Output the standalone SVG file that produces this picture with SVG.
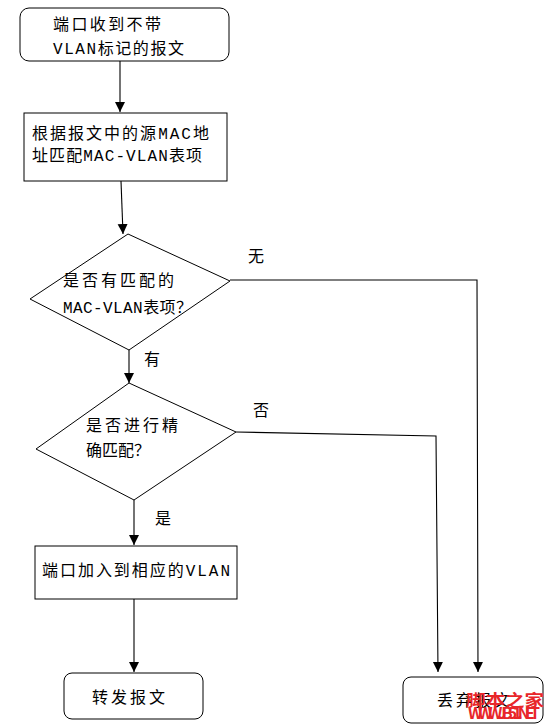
<svg xmlns="http://www.w3.org/2000/svg" width="555" height="728" viewBox="0 0 555 728">
<style>
.box{fill:#fff;stroke:#000;stroke-width:1}
.ln{fill:none;stroke:#000;stroke-width:1.1}
text{font-family:"Liberation Mono","Noto Sans CJK SC",monospace;font-size:16px;fill:#000}
.wm{font-family:"Noto Sans CJK SC",sans-serif;fill:#e8262a;font-weight:bold}
</style>
<defs>
<marker id="ah" viewBox="0 0 10 12" refX="10" refY="6" markerWidth="10" markerHeight="12" markerUnits="userSpaceOnUse" orient="auto">
<path d="M0,1 L10,6 L0,11 Z" fill="#000"/>
</marker>
</defs>
<rect width="555" height="728" fill="#fff"/>
<g id="connectors">
<line class="ln" x1="120" y1="61" x2="120" y2="112" marker-end="url(#ah)"/>
<line class="ln" x1="121" y1="181" x2="123" y2="234" marker-end="url(#ah)"/>
<polyline class="ln" points="230,280 477,280 478,672" marker-end="url(#ah)"/>
<line class="ln" x1="129" y1="350" x2="129" y2="383" marker-end="url(#ah)"/>
<polyline class="ln" points="236,432 436,436 438,672" marker-end="url(#ah)"/>
<line class="ln" x1="134" y1="500" x2="134" y2="545" marker-end="url(#ah)"/>
<line class="ln" x1="134" y1="599" x2="134" y2="672" marker-end="url(#ah)"/>
<text x="248" y="262">无</text>
<text x="144" y="365">有</text>
<text x="253" y="416">否</text>
<text x="155" y="524">是</text>
</g>
<g id="start">
<rect class="box" x="20" y="8" width="209" height="53" rx="9"/>
<text x="53" y="30" textLength="108" lengthAdjust="spacing">端口收到不带</text>
<text x="53" y="54" textLength="131" lengthAdjust="spacing">VLAN标记的报文</text>
</g>
<g id="match">
<rect class="box" x="24" y="113" width="203" height="68"/>
<text x="32" y="139" textLength="177" lengthAdjust="spacing">根据报文中的源MAC地</text>
<text x="32" y="161" textLength="170" lengthAdjust="spacing">址匹配MAC-VLAN表项</text>
</g>
<g id="decision1">
<polygon class="box" points="128,234 230,281 129,350 30,299"/>
<text x="63" y="286" textLength="111" lengthAdjust="spacing">是否有匹配的</text>
<text x="63" y="313" textLength="129" lengthAdjust="spacing">MAC-VLAN表项？</text>
</g>
<g id="decision2">
<polygon class="box" points="129,383 236,432 134,500 36,449"/>
<text x="86" y="431" textLength="92" lengthAdjust="spacing">是否进行精</text>
<text x="86" y="456" textLength="64" lengthAdjust="spacing">确匹配？</text>
</g>
<g id="join">
<rect class="box" x="35" y="546" width="202" height="53"/>
<text x="42" y="576" textLength="188" lengthAdjust="spacing">端口加入到相应的VLAN</text>
</g>
<g id="forward">
<rect class="box" x="64" y="673" width="139" height="46" rx="8"/>
<text x="92" y="703" textLength="73" lengthAdjust="spacing">转发报文</text>
</g>
<g id="drop">
<rect class="box" x="403" y="677" width="140" height="46" rx="8"/>
<text x="437" y="706" textLength="73" lengthAdjust="spacing">丢弃报文</text>
</g>
<g id="watermark">
<text class="wm" x="466" y="706" font-size="19" textLength="78" lengthAdjust="spacingAndGlyphs">脚本之家</text>
<text class="wm" x="468" y="719" font-size="8" font-weight="normal" textLength="72" lengthAdjust="spacing">WWW.JB51.NET</text>
</g>
</svg>
